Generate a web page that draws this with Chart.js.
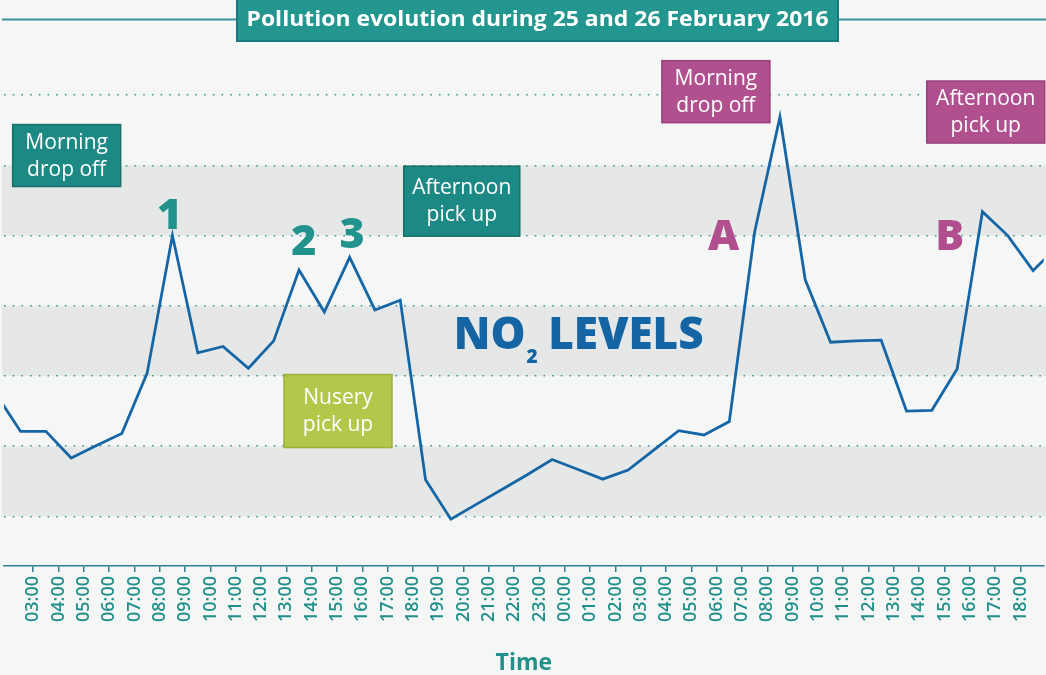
<!DOCTYPE html>
<html>
<head>
<meta charset="utf-8">
<script src="https://cdn.jsdelivr.net/npm/chart.js@4.4.1/dist/chart.umd.min.js"></script>
<style>
  html, body { margin: 0; padding: 0; background: #f5f7f7; }
  #wrap { width: 1046px; height: 675px; }
</style>
</head>
<body>
<div id="wrap"><canvas id="myChart" width="1046" height="675"></canvas></div>
<script>
// hours counted from 00:00 on 25 Feb (24 = midnight going into the 26th)
const hours = [1.5, 2.5, 3.5, 4.5, 5.5, 6.5, 7.5, 8.5, 9.5, 10.5, 11.5, 12.5, 13.5, 14.5, 15.5, 16.5, 17.5,
    18.5, 19.5, 20.5, 21.5, 22.5, 23.5, 24.5, 25.5, 26.5, 27.5, 28.5, 29.5, 30.5, 31.5, 32.5, 33.5,
    34.5, 35.5, 36.5, 37.5, 38.5, 39.5, 40.5, 41.5, 42.5, 43.5];
const no2 = [27.6, 22.1, 22.1, 18.3, 20.1, 21.8, 30.4, 50.0, 33.3, 34.2, 31.1, 35.0, 45.1, 39.1, 46.9, 39.4, 40.8,
    15.2, 9.6, 11.7, 13.8, 15.9, 18.1, 16.7, 15.3, 16.6, 19.4, 22.2, 21.6, 23.5, 50.5, 66.9, 43.7,
    34.8, 35.0, 35.1, 25.0, 25.1, 31.0, 53.4, 50.0, 45.0, 48.6];

const tickHours = [3, 4, 5, 6, 7, 8, 9, 10, 11, 12, 13, 14, 15, 16, 17, 18, 19, 20, 21, 22, 23,
    24, 25, 26, 27, 28, 29, 30, 31, 32, 33, 34, 35, 36, 37, 38, 39, 40, 41, 42];
const tickLabels = ['03:00', '04:00', '05:00', '06:00', '07:00', '08:00', '09:00', '10:00', '11:00', '12:00',
    '13:00', '14:00', '15:00', '16:00', '17:00', '18:00', '19:00', '20:00', '21:00', '22:00', '23:00',
    '00:00', '01:00', '02:00', '03:00', '04:00', '05:00', '06:00', '07:00', '08:00', '09:00', '10:00',
    '11:00', '12:00', '13:00', '14:00', '15:00', '16:00', '17:00', '18:00'];
const levelLines = [10, 20, 30, 40, 50, 60, 70];
const bands = [[10, 20], [30, 40], [50, 60]];

const teal = '#21908a';

// notes placed in chart units (hour, level)
const boxNotes = [
    { text: ['Morning', 'drop off'], x: 4.32, y: 61.4, w: 108, h: 62, fill: '#1d8985', edge: '#167069' },
    { text: ['Afternoon', 'pick up'], x: 19.93, y: 54.9, w: 116, h: 70, fill: '#1d8985', edge: '#167069' },
    { text: ['Nusery', 'pick up'], x: 15.04, y: 25.0, w: 108, h: 73, fill: '#b3c84a', edge: '#9db13a' },
    { text: ['Morning', 'drop off'], x: 29.97, y: 70.5, w: 108, h: 62, fill: '#b0508e', edge: '#98407a' },
    { text: ['Afternoon', 'pick up'], x: 40.63, y: 67.6, w: 118, h: 62, fill: '#b0508e', edge: '#98407a' }
];
const bigMarks = [
    { text: '1', x: 8.39, y: 53.2, color: '#21938c' },
    { text: '2', x: 13.69, y: 49.5, color: '#21938c' },
    { text: '3', x: 15.60, y: 50.4, color: '#21938c' },
    { text: 'A', x: 30.27, y: 50.2, color: '#b04e8e' },
    { text: 'B', x: 39.21, y: 50.2, color: '#b04e8e' }
];

const backdrop = {
    id: 'backdrop',
    beforeDraw(chart) {
        const { ctx, width, scales: { y } } = chart;
        ctx.save();
        ctx.fillStyle = '#f5f7f7';
        ctx.fillRect(0, 0, width, chart.height);
        ctx.fillStyle = '#e6e8e8';
        bands.forEach(b => {
            const top = y.getPixelForValue(b[1]);
            const bottom = y.getPixelForValue(b[0]);
            ctx.fillRect(2, top, width - 2, bottom - top);
        });
        ctx.restore();
    }
};

const notes = {
    id: 'notes',
    afterDatasetsDraw(chart) {
        const { ctx, scales: { x, y } } = chart;
        ctx.save();
        boxNotes.forEach(n => {
            const cx = x.getPixelForValue(n.x);
            const cy = y.getPixelForValue(n.y);
            ctx.fillStyle = n.fill;
            ctx.fillRect(cx - n.w / 2, cy - n.h / 2, n.w, n.h);
            ctx.strokeStyle = n.edge;
            ctx.lineWidth = 1.5;
            ctx.strokeRect(cx - n.w / 2, cy - n.h / 2, n.w, n.h);
            ctx.fillStyle = '#ffffff';
            ctx.font = '21px "Open Sans"';
            ctx.textAlign = 'center';
            ctx.textBaseline = 'middle';
            ctx.fillText(n.text[0], cx, cy - 13);
            ctx.fillText(n.text[1], cx, cy + 14);
        });

        ctx.font = '800 43px "Open Sans"';
        ctx.textAlign = 'center';
        ctx.textBaseline = 'alphabetic';
        bigMarks.forEach(m => {
            const cx = x.getPixelForValue(m.x);
            const cy = y.getPixelForValue(m.y);
            ctx.fillStyle = m.color;
            ctx.fillText(m.text, cx, cy + 15.5);
        });

        // NO2 LEVELS
        const cx = x.getPixelForValue(24.55);
        const base = y.getPixelForValue(36.05) + 16;
        const big = '800 44px "Open Sans"';
        const small = '800 19px "Open Sans"';
        ctx.font = big;
        const wNo = ctx.measureText('NO').width;
        const wRest = ctx.measureText(' LEVELS').width;
        ctx.font = small;
        const w2 = ctx.measureText('2').width;
        let left = cx - (wNo + w2 + wRest) / 2;
        ctx.textAlign = 'left';
        ctx.fillStyle = '#1565a5';
        ctx.font = big;
        ctx.fillText('NO', left, base);
        ctx.font = small;
        ctx.fillText('2', left + wNo + 1, base + 14);
        ctx.font = big;
        ctx.fillText(' LEVELS', left + wNo + w2, base);
        ctx.restore();
    },
    afterDraw(chart) {
        const { ctx, width } = chart;
        ctx.save();
        ctx.strokeStyle = '#3f8f9d';
        ctx.lineWidth = 2;
        ctx.beginPath();
        ctx.moveTo(2, 19.5);
        ctx.lineTo(width, 19.5);
        ctx.stroke();
        ctx.fillStyle = '#22968f';
        ctx.fillRect(237, -2, 601, 43);
        ctx.strokeStyle = '#177a80';
        ctx.lineWidth = 2;
        ctx.strokeRect(237, -2, 601, 43);
        const title = 'Pollution evolution during 25 and 26 February 2016';
        ctx.font = 'bold 21px "Open Sans"';
        const tw = ctx.measureText(title).width;
        const sx = 582 / tw;
        ctx.translate(537.5, 20);
        ctx.scale(sx, 1);
        ctx.fillStyle = '#ffffff';
        ctx.textAlign = 'center';
        ctx.textBaseline = 'middle';
        ctx.fillText(title, 0, 0);
        ctx.restore();
    }
};

const ctx = document.getElementById('myChart').getContext('2d');
const chart = new Chart(ctx, {
    type: 'line',
    data: {
        datasets: [{
            label: 'NO2',
            data: hours.map((h, i) => ({ x: h, y: no2[i] })),
            borderColor: '#1666a6',
            borderWidth: 2.8,
            pointRadius: 0,
            tension: 0,
            fill: false
        }]
    },
    options: {
        responsive: false,
        animation: false,
        layout: { padding: { left: 4, right: 0, top: 0, bottom: 0 } },
        plugins: {
            legend: { display: false },
            tooltip: { enabled: false },
            title: { display: false }
        },
        scales: {
            x: {
                type: 'linear',
                min: 1.845,
                max: 42.92,
                afterBuildTicks: s => { s.ticks = tickHours.map(v => ({ value: v })); },
                ticks: {
                    autoSkip: false,
                    maxRotation: 90,
                    minRotation: 90,
                    padding: 4,
                    color: teal,
                    font: { family: 'Open Sans', size: 18, weight: '600' },
                    callback: (v, i) => tickLabels[i]
                },
                grid: { drawOnChartArea: false, drawTicks: true, tickLength: 6, color: '#2d7f8c', lineWidth: 1.5 },
                border: { display: true, color: '#2d7f8c', width: 1.5 },
                title: {
                    display: true,
                    text: 'Time',
                    color: teal,
                    font: { family: 'Open Sans', size: 23, weight: 'bold', lineHeight: 1 },
                    padding: { top: 26, bottom: 0 }
                }
            },
            y: {
                min: 2.94,
                max: 83.56,
                afterBuildTicks: s => { s.ticks = levelLines.map(v => ({ value: v })); },
                ticks: { display: false },
                grid: { drawTicks: false, color: '#3a969c', lineWidth: 1.6 },
                border: { display: false, dash: [1.6, 7.1] }
            }
        }
    },
    plugins: [backdrop, notes]
});
</script>
</body>
</html>
